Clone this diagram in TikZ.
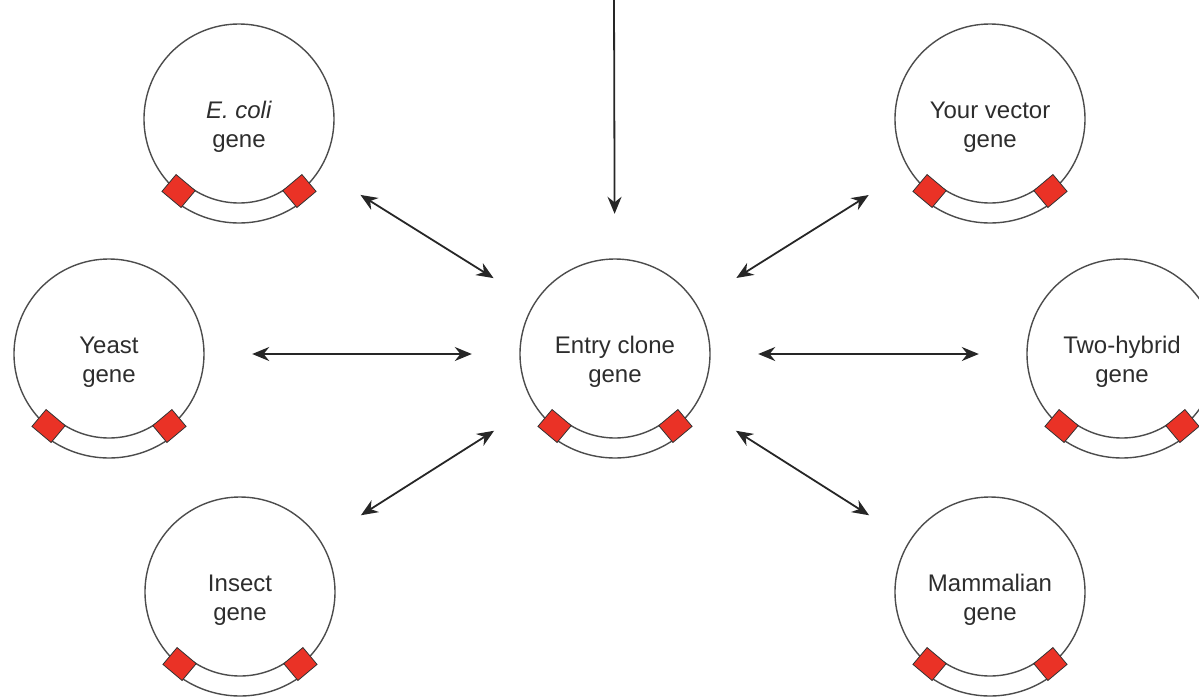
\documentclass[tikz,border=0pt]{standalone}
\usepackage{fontspec}
\setmainfont{Liberation Sans}
\usetikzlibrary{arrows.meta}
\definecolor{markred}{RGB}{234,50,38}
\definecolor{labelgray}{RGB}{45,45,45}
\tikzset{
  plasmid/.style={circle,minimum size=190pt,inner sep=0pt,label={[genetext]center:#1}},
  genetext/.style={align=center,yshift=-8pt,text=labelgray,font=\fontsize{24}{29}\selectfont},
  ringline/.style={draw=black!70,line width=1.4pt},
  marker/.style={draw=black!80,fill=markred,line width=0.8pt,minimum width=22pt,minimum height=25pt,inner sep=0pt},
  link/.style={<->,line width=1.8pt,draw=black!85,shorten <=48pt,shorten >=48pt}
}
\begin{document}
\begin{tikzpicture}[x=1pt,y=-1pt,>={Stealth[length=17pt,width=14pt]}]
\useasboundingbox (0,0) rectangle (1199,697);
\clip (0,0) rectangle (1199,697);
\node[plasmid={\textit{E. coli}\\gene}] (ecoli)  at (239,119)  {};
\node[plasmid={Yeast\\gene}]            (yeast)  at (109,354)  {};
\node[plasmid={Insect\\gene}]           (insect) at (240,592)  {};
\node[plasmid={Entry clone\\gene}]      (entry)  at (615,354)  {};
\node[plasmid={Your vector\\gene}]      (vector) at (990,119)  {};
\node[plasmid={Two-hybrid\\gene}]       (hybrid) at (1122,354) {};
\node[plasmid={Mammalian\\gene}]        (mammal) at (990,592)  {};
\foreach \p in {ecoli,yeast,insect,entry,vector,hybrid,mammal}{
  \begin{scope}[shift={(\p.center)}]
    \draw[ringline] (-50:95pt) arc[start angle=-50,end angle=230,radius=95pt];
    \draw[ringline] (-130:84pt) arc[start angle=-130,end angle=-50,radius=84pt];
    \draw[ringline] (-130:104pt) arc[start angle=-130,end angle=-50,radius=104pt];
    \node[marker,rotate=-130] at (-130:94pt) {};
    \node[marker,rotate=-50] at (-50:94pt) {};
  \end{scope}
}
\coordinate (top) at (614,0);
\draw[link,->,shorten <=0pt,shorten >=45pt] (top) -- (entry);
\draw[link] (ecoli) -- (entry);
\draw[link] (yeast) -- (entry);
\draw[link] (insect) -- (entry);
\draw[link] (entry) -- (vector);
\draw[link] (entry) -- (hybrid);
\draw[link] (entry) -- (mammal);
\end{tikzpicture}
\end{document}
